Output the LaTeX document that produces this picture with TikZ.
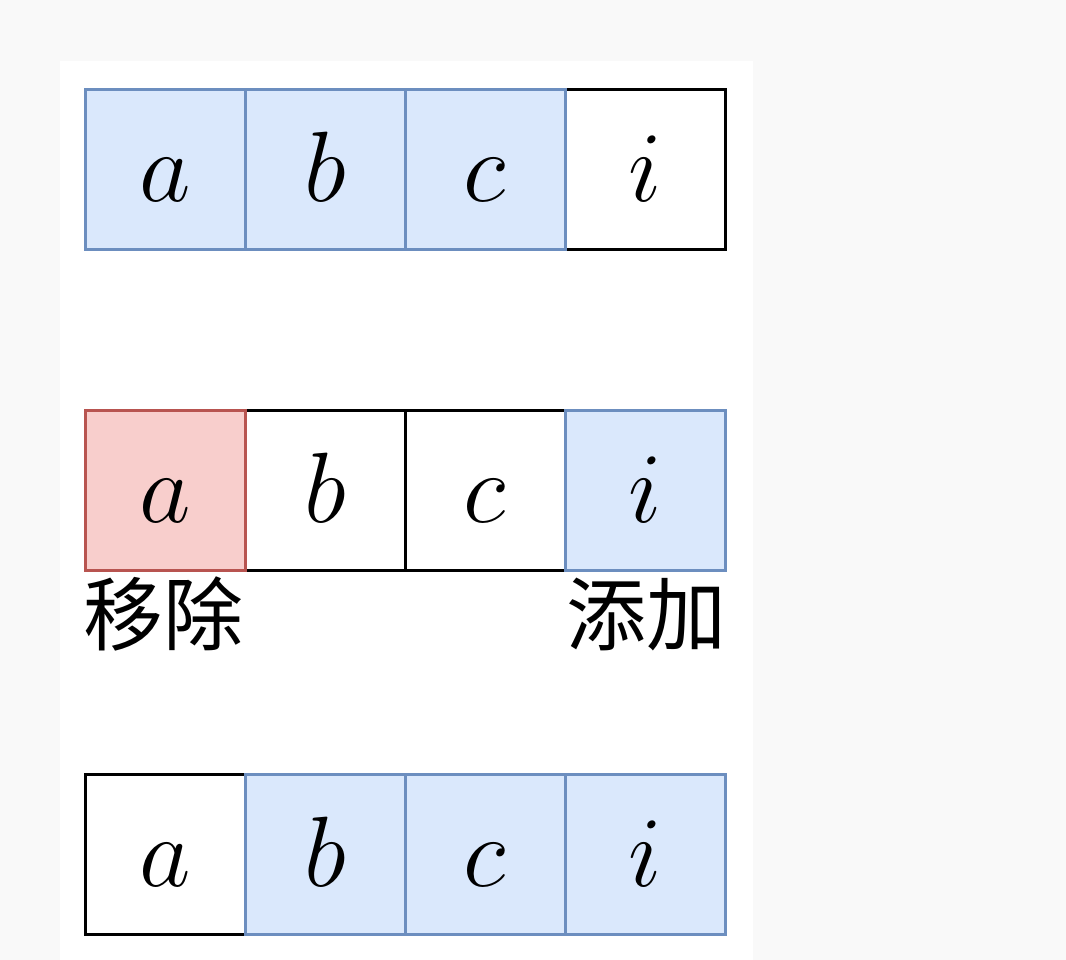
\RequirePackage{fix-cm}
\documentclass[tikz,border=0pt]{standalone}
\usepackage{fontspec}
\newfontfamily\cjk{Noto Sans CJK SC}
\definecolor{bgc}{HTML}{F9F9F9}
\definecolor{bluefill}{HTML}{DAE8FC}
\definecolor{bluedraw}{HTML}{6C8EBF}
\definecolor{redfill}{HTML}{F8CECC}
\definecolor{reddraw}{HTML}{B85450}
\tikzset{
  cell/.style={minimum width=160pt, minimum height=160pt, inner sep=0pt, outer sep=0pt,
    line width=3pt, text height=70pt, text depth=6pt, font=\fontsize{100}{100}\selectfont},
  plaincell/.style={cell, draw=black, fill=white},
  bluecell/.style={cell, draw=bluedraw, fill=bluefill},
  redcell/.style={cell, draw=reddraw, fill=redfill},
  cjklabel/.style={inner sep=0pt, font=\cjk\fontsize{80}{80}\selectfont}
}
\begin{document}
\begin{tikzpicture}[x=1pt,y=-1pt]
\fill[bgc] (0,0) rectangle (1066,960);
\useasboundingbox (0,0) rectangle (1066,960);
\fill[white] (60,61) rectangle (753,960);
% row 1
\node[plaincell] (r1i) at (645,170) {$i$};
\node[bluecell] (r1a) at (165,170) {$a$};
\node[bluecell] (r1b) at (325,170) {$b$};
\node[bluecell] (r1c) at (485,170) {$c$};
% row 2
\node[plaincell] (r2b) at (325,490) {$b$};
\node[plaincell] (r2c) at (485,490) {$c$};
\node[redcell] (r2a) at (165,490) {$a$};
\node[bluecell] (r2i) at (645,490) {$i$};
\node[cjklabel, anchor=base west] (rm) at (83,644) {移除};
\node[cjklabel, anchor=base east] (add) at (727,644) {添加};
% row 3
\node[plaincell] (r3a) at (165,854) {$a$};
\node[bluecell] (r3b) at (325,854) {$b$};
\node[bluecell] (r3c) at (485,854) {$c$};
\node[bluecell] (r3i) at (645,854) {$i$};
\end{tikzpicture}
\end{document}
